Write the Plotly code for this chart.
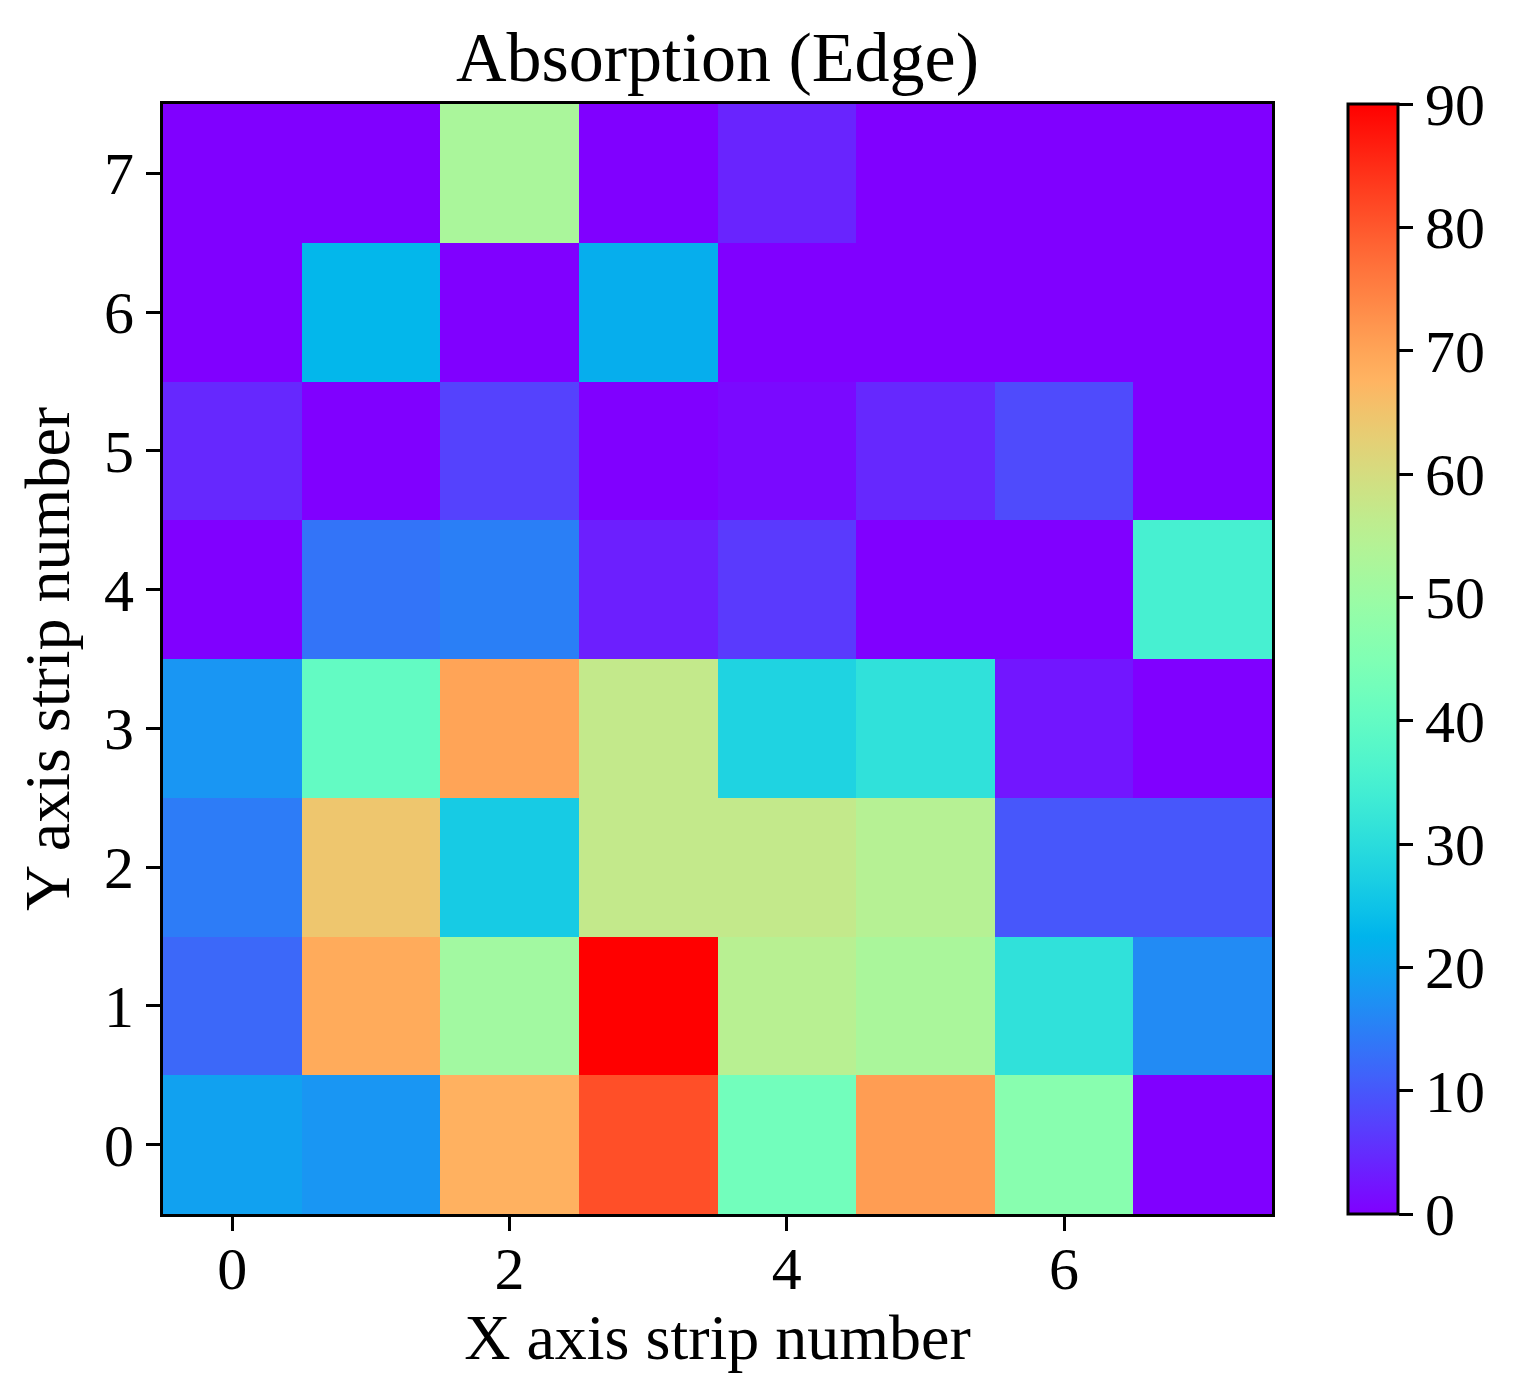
import numpy as np
import plotly.graph_objects as go

# strip numbers
x_strips = [0, 1, 2, 3, 4, 5, 6, 7]
y_strips = [0, 1, 2, 3, 4, 5, 6, 7]

# absorption values, one row per Y strip (0 at bottom)
row_y0 = [19.5, 18, 68, 81, 42.5, 71, 46.5, 0]
row_y1 = [12, 69, 51, 90, 55, 52.5, 31, 16.5]
row_y2 = [14.5, 64.5, 26.5, 57, 57, 54.5, 10, 10]
row_y3 = [18, 40, 70, 57, 28, 31, 2.5, 0]
row_y4 = [0, 13.5, 15, 3.5, 6.5, 0, 0, 35]
row_y5 = [4.5, 0, 7.5, 0, 1, 4.5, 8.5, 0]
row_y6 = [0, 23, 0, 21.5, 0, 0, 0, 0]
row_y7 = [0, 0, 52.5, 0, 4, 0, 0, 0]

z = [row_y0, row_y1, row_y2, row_y3, row_y4, row_y5, row_y6, row_y7]


##matplotlib "rainbow" colormap
def rainbow(n=41):
    scale = []
    for t in np.linspace(0, 1, n):
        r = min(abs(2 * t - 0.5), 1.0)
        g = np.sin(np.pi * t)
        b = max(np.cos(np.pi * t / 2), 0)
        scale.append([float(t), "rgb(%d,%d,%d)" % (round(r * 255), round(g * 255), round(b * 255))])
    return scale


font = "Liberation Serif"
tick_font = dict(family=font, size=60, color="black")
label_font = dict(family=font, size=64, color="black")

fig = go.Figure(go.Heatmap(
    x=x_strips, y=y_strips, z=z,
    zmin=0, zmax=90,
    colorscale=rainbow(),
    colorbar=dict(
        x=1.0685, xanchor="left", xpad=0,
        y=0.5, len=1, yanchor="middle", ypad=0,
        thickness=50,
        outlinecolor="black", outlinewidth=3,
        ticks="outside", ticklen=14, tickwidth=3, tickcolor="black",
        tickvals=[0, 10, 20, 30, 40, 50, 60, 70, 80, 90],
        tickfont=tick_font,
    ),
))

axis_common = dict(
    showline=True, linecolor="black", linewidth=3, mirror=True,
    ticks="outside", ticklen=14, tickwidth=3, tickcolor="black",
    showgrid=False, zeroline=False,
    tickfont=tick_font,
)

fig.update_xaxes(range=[-0.5, 7.5], tickvals=[0, 2, 4, 6], ticklabelstandoff=-14,
                 title=dict(text="X axis strip number", font=label_font, standoff=2),
                 **axis_common)
fig.update_yaxes(range=[-0.5, 7.5], tickvals=y_strips,
                 title=dict(text="Y axis strip number", font=label_font, standoff=14),
                 **axis_common)

fig.update_layout(
    width=1525, height=1397,
    margin=dict(l=155, r=261, t=96, b=191),
    paper_bgcolor="white", plot_bgcolor="white",
    title=dict(text="Absorption (Edge)", x=0.5, xanchor="center", xref="paper",
               y=1 - 48 / 1397, yanchor="middle",
               font=dict(family=font, size=70, color="black")),
)

fig.write_html("out.html")
